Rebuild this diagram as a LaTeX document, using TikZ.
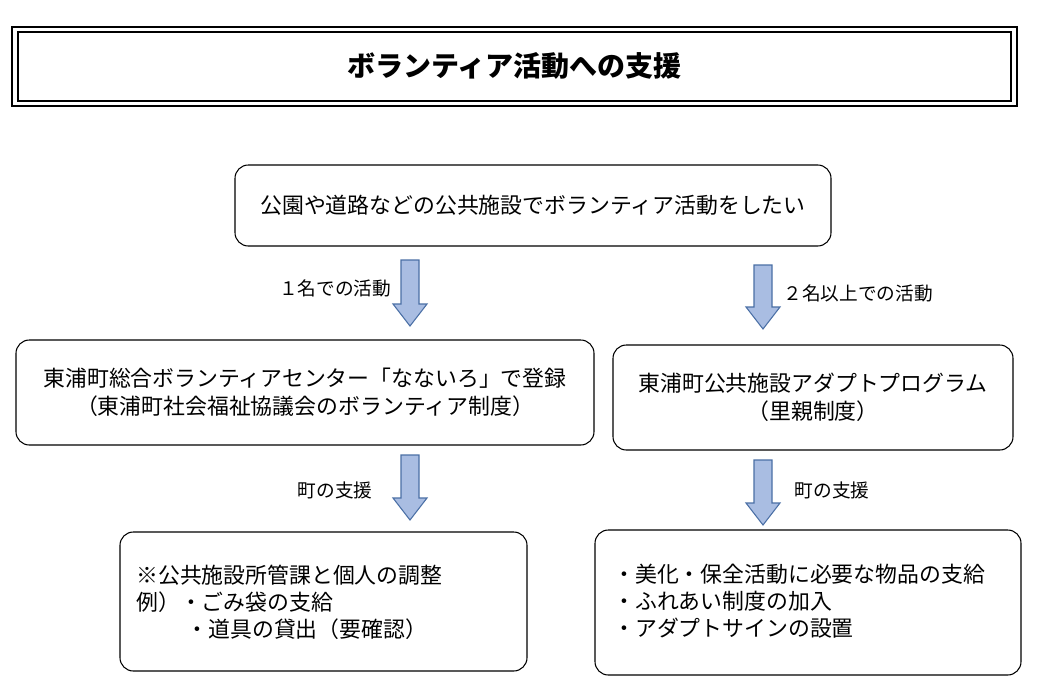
\documentclass[tikz,border=0pt]{standalone}
\usepackage{fontspec}
\setmainfont{Noto Sans CJK JP}
\usetikzlibrary{positioning}

\begin{document}
\begin{tikzpicture}[x=0.75pt,y=-0.75pt,
    box/.style={draw, rounded corners=10pt, line width=0.8pt, font=\fontsize{16.4}{21}\selectfont},
    lbl/.style={font=\fontsize{14}{16}\selectfont},
    ]
  \useasboundingbox (0,0) rectangle (1042,696);
  \definecolor{arfill}{HTML}{A9BDE2}
  \definecolor{arline}{HTML}{4A6FA5}
  \newcommand\blockarrow[3]{%
    \draw[arline, fill=arfill, line width=0.8pt]
      (#1-9,#2) -- (#1+9,#2) -- (#1+9,#3-22) -- (#1+17,#3-22) -- (#1,#3)
      -- (#1-17,#3-22) -- (#1-9,#3-22) -- cycle;}

  % title
  \draw[line width=2.2pt] (12,27) rectangle (1017,106);
  \draw[line width=0.8pt] (18,32) rectangle (1011,101);
  \node[font=\fontsize{21}{25}\selectfont\bfseries] (title) at (514.5,66) {ボランティア活動への支援};

  \node[box, minimum width=596*0.75pt, minimum height=81*0.75pt] (wish) at (533,205.5)
    {公園や道路などの公共施設でボランティア活動をしたい};

  \node[box, minimum width=578*0.75pt, minimum height=105*0.75pt, align=center] (center) at (305,392.5)
    {東浦町総合ボランティアセンター「なないろ」で登録\\（東浦町社会福祉協議会のボランティア制度）};
  \node[box, minimum width=400*0.75pt, minimum height=105*0.75pt, align=center] (adopt) at (813,397.5)
    {東浦町公共施設アダプトプログラム\\（里親制度）};

  \node[box, minimum width=407*0.75pt, minimum height=139*0.75pt] (supA) at (323.5,601.5) {};
  \node[font=\fontsize{16.4}{20.3}\selectfont, align=left, anchor=north west, inner sep=0pt] (supAtext) at (136,565)
    {※公共施設所管課と個人の調整\\例）・ごみ袋の支給\\\phantom{例）}\hspace{0.3em}・道具の貸出（要確認）};
  \node[box, minimum width=426*0.75pt, minimum height=145*0.75pt] (supB) at (808,602.5) {};
  \node[font=\fontsize{16.4}{20.3}\selectfont, align=left, anchor=north west, inner sep=0pt] (supBtext) at (613,564)
    {・美化・保全活動に必要な物品の支給\\・ふれあい制度の加入\\・アダプトサインの設置};

  % arrows
  \blockarrow{410}{260}{326}
  \blockarrow{763}{265}{329}
  \blockarrow{410}{455}{520}
  \blockarrow{763}{460}{525}
  \node[lbl] (one) at (335,288) {１名での活動};
  \node[lbl] (two) at (858,293) {２名以上での活動};
  \node[lbl] (helpA) at (335,490) {町の支援};
  \node[lbl] (helpB) at (832,490) {町の支援};
\end{tikzpicture}
\end{document}
